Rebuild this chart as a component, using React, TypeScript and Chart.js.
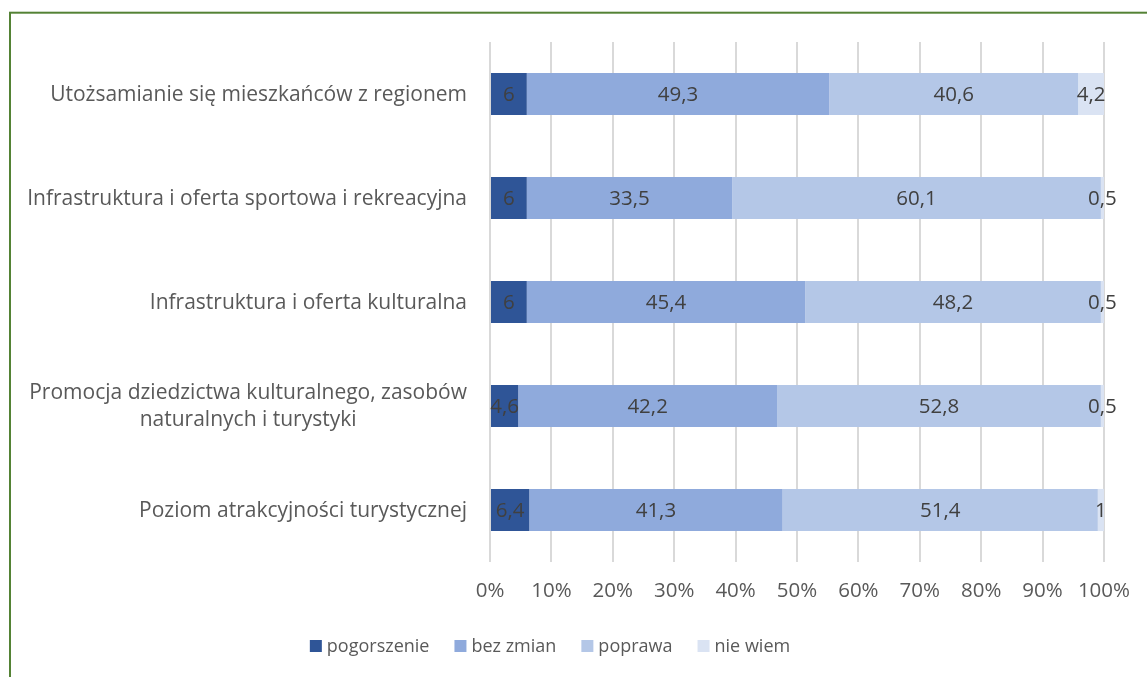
import React, { useEffect, useRef } from "react";
import { Chart, registerables } from "chart.js";

Chart.register(...registerables);

const categories: string[][] = [
  ["Utożsamianie się mieszkańców z regionem"],
  ["Infrastruktura i oferta sportowa i rekreacyjna"],
  ["Infrastruktura i oferta kulturalna"],
  ["Promocja dziedzictwa kulturalnego, zasobów", "naturalnych i turystyki"],
  ["Poziom atrakcyjności turystycznej"],
];
const seriesNames = ["pogorszenie", "bez zmian", "poprawa", "nie wiem"];
const pogorszenie = [6, 6, 6, 4.6, 6.4];
const bezZmian = [49.3, 33.5, 45.4, 42.2, 41.3];
const poprawa = [40.6, 60.1, 48.2, 52.8, 51.4];
const nieWiem = [4.2, 0.5, 0.5, 0.5, 1];
const seriesColors = ["#2F5597", "#8FAADC", "#B4C7E7", "#DAE3F3"];
const xTickValues = [0, 10, 20, 30, 40, 50, 60, 70, 80, 90, 100];

const FONT = "'Open Sans'";
const TICK_FS = 20.5;
const DATA_FS = 20.5;
const LEG_FS = 18;
const CAT_FS = 21;
const TEXT = "#595959";
const LABEL = "#404040";

const rawSeries = [pogorszenie, bezZmian, poprawa, nieWiem];
const totals = categories.map((_, i) => rawSeries.reduce((s, arr) => s + arr[i], 0));

const fmt = (v: number) => String(v).replace(".", ",");

const customPlugin = {
  id: "custom",
  beforeDraw(chart: any) {
    const ctx = chart.ctx;
    ctx.save();
    ctx.strokeStyle = "#548235";
    ctx.lineWidth = 2;
    ctx.strokeRect(10, 12.7, 1300, 800);
    ctx.restore();
  },
  afterDatasetsDraw(chart: any) {
    const ctx = chart.ctx;
    ctx.save();
    ctx.font = `${DATA_FS}px ${FONT}`;
    ctx.fillStyle = LABEL;
    ctx.textAlign = "center";
    ctx.textBaseline = "middle";
    chart.data.datasets.forEach((ds: any, di: number) => {
      const meta = chart.getDatasetMeta(di);
      meta.data.forEach((el: any, i: number) => {
        const raw = rawSeries[di][i];
        const cx = (el.x + el.base) / 2;
        ctx.fillText(fmt(raw), cx, el.y + 1);
      });
    });
    ctx.restore();
  },
  afterDraw(chart: any) {
    const ctx = chart.ctx;
    const yScale = chart.scales.y;
    ctx.save();
    ctx.font = `${CAT_FS}px ${FONT}`;
    ctx.fillStyle = TEXT;
    ctx.textAlign = "center";
    ctx.textBaseline = "middle";
    const rightX = chart.chartArea.left - 23;
    const lh = 27;
    categories.forEach((lines, i) => {
      const cy = yScale.getPixelForValue(i);
      const w = Math.max(...lines.map((l) => ctx.measureText(l).width));
      const cx = rightX - w / 2;
      const y0 = cy - ((lines.length - 1) * lh) / 2;
      lines.forEach((l, j) => ctx.fillText(l, cx, y0 + j * lh + 1));
    });
    // legend
    ctx.font = `${LEG_FS}px ${FONT}`;
    const box = 12;
    const gapBoxText = 5;
    const gapItem = 25;
    const widths = seriesNames.map((n) => ctx.measureText(n).width);
    const total = widths.reduce((s, w) => s + box + gapBoxText + w, 0) + gapItem * (seriesNames.length - 1);
    let x = 550 - total / 2;
    const ly = 646;
    ctx.textAlign = "left";
    seriesNames.forEach((n, i) => {
      ctx.fillStyle = seriesColors[i];
      ctx.fillRect(x, ly - box / 2, box, box);
      ctx.fillStyle = TEXT;
      ctx.fillText(n, x + box + gapBoxText, ly + 1);
      x += box + gapBoxText + widths[i] + gapItem;
    });
    ctx.restore();
  },
};

export default function App() {
  const ref = useRef<HTMLCanvasElement | null>(null);
  useEffect(() => {
    if (!ref.current) return;
    const chart = new Chart(ref.current, {
      type: "bar",
      data: {
        labels: categories.map((c) => c.join(" ")),
        datasets: rawSeries.map((arr, di) => ({
          label: seriesNames[di],
          data: arr.map((v, i) => (v / totals[i]) * 100),
          backgroundColor: seriesColors[di],
          borderWidth: 0,
          barPercentage: 0.405,
          categoryPercentage: 1,
        })),
      },
      options: {
        indexAxis: "y",
        animation: false,
        responsive: false,
        layout: { padding: { top: 42, right: 41, bottom: 0, left: 0 } },
        plugins: {
          legend: { display: false },
          tooltip: { enabled: false },
        },
        scales: {
          x: {
            stacked: true,
            min: 0,
            max: 100,
            afterBuildTicks: (scale: any) => {
              scale.ticks = xTickValues.map((v) => ({ value: v }));
            },
            afterFit: (scale: any) => {
              scale.height = 115;
            },
            ticks: {
              callback: (v: any) => `${v}%`,
              font: { family: FONT, size: TICK_FS },
              color: TEXT,
              padding: 17,
            },
            grid: { color: "#D9D9D9", lineWidth: 2, drawTicks: false },
            border: { display: false },
          },
          y: {
            stacked: true,
            afterFit: (scale: any) => {
              scale.width = 490;
            },
            ticks: { display: false },
            grid: { display: false },
            border: { display: false },
          },
        },
      },
      plugins: [customPlugin],
    } as any);
    return () => chart.destroy();
  }, []);
  return (
    <div style={{ position: "fixed", left: 0, top: 0, width: 1147, height: 677, background: "#fff" }}>
      <canvas ref={ref} width={1147} height={677} style={{ display: "block" }} />
    </div>
  );
}
